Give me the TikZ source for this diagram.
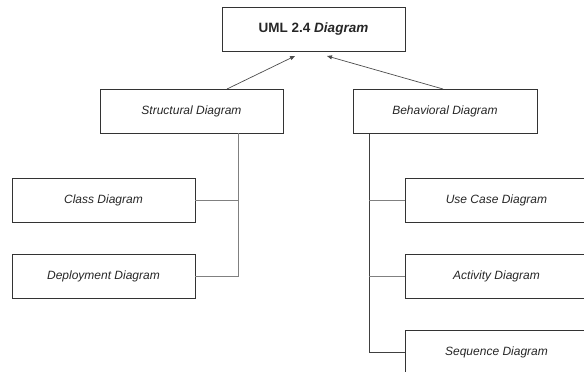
\documentclass[tikz,border=0pt]{standalone}
\usepackage{fontspec}
\setmainfont{Liberation Sans}
\usetikzlibrary{arrows.meta}
\begin{document}
\begin{tikzpicture}[x=1pt,y=-1pt,
  box/.style={draw=black!80,line width=0.8pt,rectangle,minimum width=183pt,minimum height=44pt,inner sep=0pt,font=\fontsize{12}{14}\selectfont\itshape,text=black!85},
  conn/.style={draw=black!50,line width=0.8pt},
  arr/.style={draw=black!70,line width=0.7pt,-{Triangle[length=5pt,width=4pt]}}]
\useasboundingbox (0,0) rectangle (584,372);
\clip (0,0) rectangle (584,372);
\node[box,font=\fontsize{13.5}{15}\selectfont\bfseries] (top) at (313.5,29) {UML 2.4 \textit{Diagram}};
\node[box] (str) at (191.5,111) {Structural Diagram};
\node[box,minimum width=184pt] (beh) at (445,111.5) {Behavioral Diagram};
\node[box] (cls) at (103.5,200) {Class Diagram};
\node[box] (dep) at (103.5,276) {Deployment Diagram};
\node[box] (use) at (496.5,200.5) {Use Case Diagram};
\node[box] (act) at (496.5,276) {Activity Diagram};
\node[box] (seq) at (496.5,352) {Sequence Diagram};
\coordinate (s0) at (227,89);
\coordinate (t1) at (295,56);
\coordinate (b0) at (443,89);
\coordinate (t2) at (327,56);
\draw[arr] (s0) -- (t1);
\draw[arr] (b0) -- (t2);
\coordinate (sv) at (238,133);
\coordinate (bv) at (369,133.5);
\draw[conn] (sv) |- (dep.east);
\draw[conn] (cls.east) -| (sv);
\draw[conn,draw=black!75] (bv) |- (seq.west);
\draw[conn] (bv |- use.west) -- (use.west);
\draw[conn] (bv |- act.west) -- (act.west);
\end{tikzpicture}
\end{document}
